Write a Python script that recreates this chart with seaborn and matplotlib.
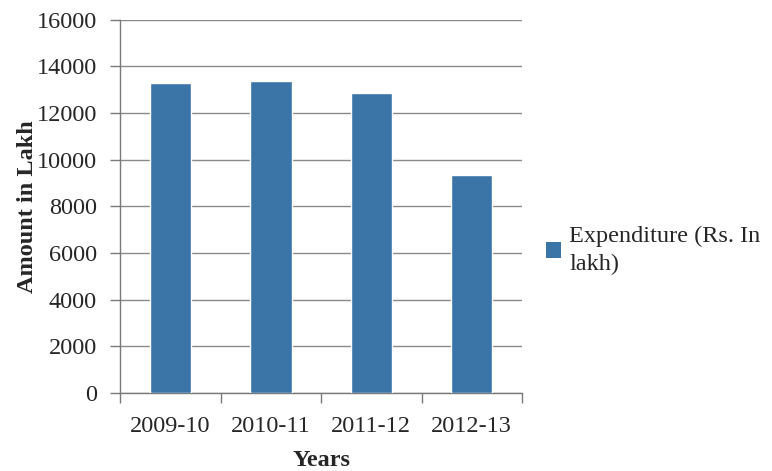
import matplotlib
matplotlib.use("Agg")
import matplotlib.pyplot as plt
import seaborn as sns
import pandas as pd
from matplotlib.patches import Patch

years = ["2009-10", "2010-11", "2011-12", "2012-13"]
expenditure = [13290, 13380, 12880, 9350]
yticks = [0, 2000, 4000, 6000, 8000, 10000, 12000, 14000, 16000]
series_name = "Expenditure (Rs. In\nlakh)"

sns.set_theme(style="white")
plt.rcParams['font.family'] = ['Liberation Serif', 'DejaVu Serif']

df = pd.DataFrame({"Years": years, "Amount": expenditure})
color = "#3B74A6"

fig = plt.figure(figsize=(7.72, 4.71), dpi=100)
ax = fig.add_axes([0.156, 0.166, 0.52, 0.792])
sns.barplot(data=df, x="Years", y="Amount", color=color, width=0.41, ax=ax,
            saturation=1, zorder=3)

ax.set_ylim(0, 16000)
ax.set_xlim(-0.5, 3.5)
ax.set_yticks(yticks)
ax.set_yticklabels([str(v) for v in yticks], fontsize=17.5)
ax.yaxis.grid(True, color="#8a8a8a", linewidth=1.0, zorder=0)
ax.set_axisbelow(True)

# x ticks between categories (Excel style)
ax.set_xticks([0, 1, 2, 3])
ax.set_xticklabels(years, fontsize=17.5)
ax.tick_params(axis="x", length=0, pad=17)
ax.set_xticks([-0.5, 0.5, 1.5, 2.5, 3.5], minor=True)
ax.tick_params(axis="x", which="minor", length=7, color="#7a7a7a", width=1, direction="out", bottom=True)
ax.tick_params(axis="y", length=7, color="#7a7a7a", width=1, direction="out", left=True, pad=10)

for s in ["top", "right"]:
    ax.spines[s].set_visible(False)
for s in ["left", "bottom"]:
    ax.spines[s].set_color("#7a7a7a")
    ax.spines[s].set_linewidth(1.0)

ax.set_xlabel("Years", fontsize=17.5, fontweight="bold", labelpad=9)
ax.set_ylabel("Amount in Lakh", fontsize=17.5, fontweight="bold", labelpad=-1)

handles = [Patch(facecolor=color, edgecolor="none", label=series_name)]
leg = fig.legend(handles=handles, loc="center left", bbox_to_anchor=(0.695, 0.468),
                 frameon=False, fontsize=17.5, handlelength=0.6, handleheight=0.6,
                 handletextpad=0.35, borderaxespad=0, labelspacing=0)
for t in leg.get_texts():
    t.set_linespacing(1.45)

fig.savefig("out.png", dpi=100, facecolor="white")
